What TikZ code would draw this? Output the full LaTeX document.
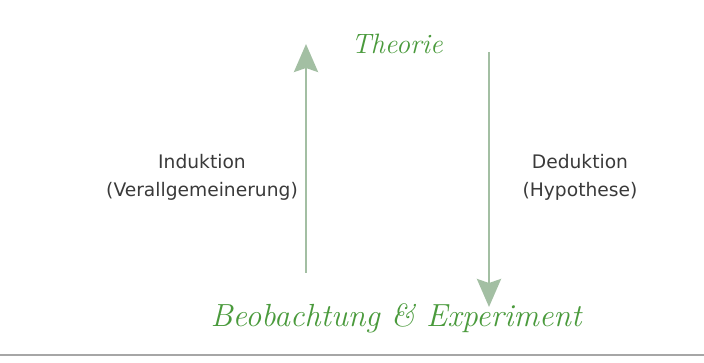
\documentclass[tikz,border=0pt]{standalone}
\usepackage{fontspec}
\setmainfont{DejaVu Sans}
\newfontfamily\handfont{Latin Modern Roman}
\usetikzlibrary{arrows.meta}
\definecolor{sage}{HTML}{A3BFA3}
\definecolor{leaf}{HTML}{4A9A3C}
\definecolor{ink}{HTML}{3A3A3A}
\begin{document}
\begin{tikzpicture}[x=0.75pt,y=-0.75pt,
    flow/.style = {-{Stealth[length=21pt,width=18pt,inset=3pt]},line width=2.2pt,sage},
    hand/.style = {leaf,font=\handfont\itshape\fontsize{21}{24}\selectfont},
    side/.style = {ink,align = center,font=\fontsize{14}{21}\selectfont}]
    \useasboundingbox (0,0) rectangle (704,363);
    \node[hand](theory) at (397,44) {Theorie};
    \node[hand,font=\handfont\itshape\fontsize{24}{28}\selectfont](observation) at (396,318) {Beobachtung \& Experiment};
    \node[side](induction) at (202,177) {Induktion\\(Verallgemeinerung)};
    \node[side](deduction) at (580,177) {Deduktion\\(Hypothese)};

    \coordinate (indFrom) at (306,273);
    \coordinate (indTo) at (306,44);
    \coordinate (dedFrom) at (489,52);
    \coordinate (dedTo) at (489,307);

    \draw [flow] (indFrom) -- (indTo);
    \draw [flow] (dedFrom) -- (dedTo);

    \draw [line width=1.5pt,black!35] (0,355) -- (704,355);
\end{tikzpicture}
\end{document}
